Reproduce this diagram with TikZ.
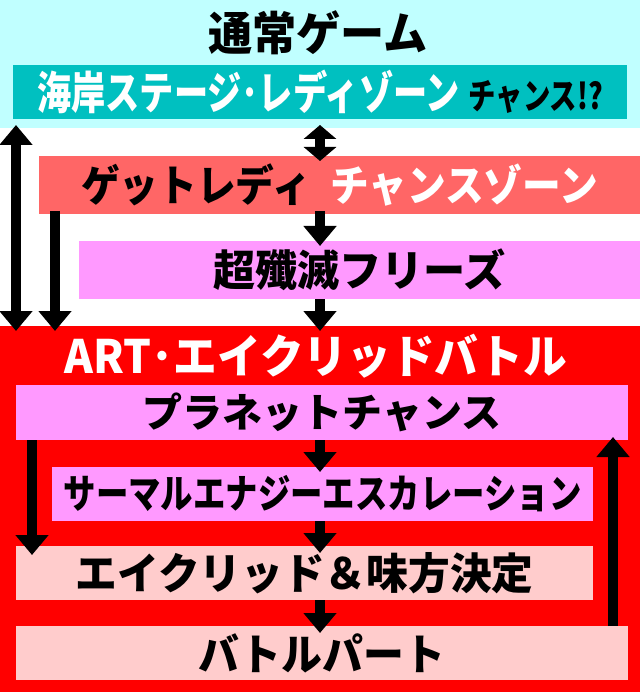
\documentclass[tikz,border=0pt]{standalone}
\usepackage{fontspec}
\setmainfont{Noto Sans CJK JP}
\usepackage{graphicx}
\usetikzlibrary{arrows.meta}
\definecolor{ice}{HTML}{C0FFFF}
\definecolor{coastteal}{HTML}{00C0C0}
\definecolor{salmon}{HTML}{FF6666}
\definecolor{orchid}{HTML}{FF99FF}
\definecolor{blush}{HTML}{FFCCCC}
\definecolor{artred}{HTML}{FF0000}
\newcommand\squeeze[2]{\scalebox{#1}[1]{#2}}
\tikzset{
  Fat/.tip={Triangle[width=32pt,length=20pt]},
  Stub/.tip={Triangle[width=32pt,length=14pt]},
  zone/.style={fill=#1,inner sep=0pt,outer sep=0pt,anchor=north west},
  stage/.style={fill=#1,inner sep=0pt,outer sep=0pt},
  txt/.style={font=\bfseries\fontsize{#1}{#1}\selectfont},
  flow/.style={line width=10pt,-Fat},
}
\begin{document}
\begin{tikzpicture}[x=1pt,y=-1pt]
\useasboundingbox[fill=white] (0,0) rectangle (640,692);
% zones
\node[zone=ice,minimum width=640pt,minimum height=128pt] (normal) at (0,0) {};
\node[zone=artred,minimum width=640pt,minimum height=366pt] (art) at (0,326) {};
\node[txt=46] (normaltitle) at (318,33) {\squeeze{0.96}{通常ゲーム}};
\node[txt=46,white] (arttitle) at (316,356) {\squeeze{0.95}{ART･エイクリッドバトル}};
% stages
\node[stage=coastteal,minimum width=614pt,minimum height=54pt,txt=45] (coast) at (320,92)
  {\squeeze{0.76}{\textcolor{white}{海岸ステージ･レディゾーン}\hspace{0.25em}{\fontsize{36}{36}\selectfont チャンス!?}}};
\node[stage=salmon,minimum width=601pt,minimum height=58pt,txt=43] (getlady) at (339.5,185)
  {\squeeze{0.9}{ゲットレディ\hspace{0.5em}\textcolor{white}{チャンスゾーン}}};
\node[stage=orchid,minimum width=561pt,minimum height=58pt,txt=43] (freeze) at (359.5,270) {\squeeze{0.98}{超殲滅フリーズ}};
\node[stage=orchid,minimum width=612pt,minimum height=55pt,txt=40] (planet) at (322,412.5) {プラネットチャンス};
\node[stage=orchid,minimum width=541pt,minimum height=54pt,txt=40] (thermal) at (322.5,494)
  {\squeeze{0.81}{サーマルエナジーエスカレーション}};
\node[stage=blush,minimum width=577pt,minimum height=54pt,txt=43] (decide) at (304.5,573) {\squeeze{0.97}{エイクリッド＆味方決定}};
\node[stage=blush,minimum width=612pt,minimum height=54pt,txt=43] (battle) at (322,653) {\squeeze{0.95}{バトルパート}};
% lanes
\coordinate (mid) at (320,0);
\coordinate (laneA) at (16,0);
\coordinate (laneB) at (55,0);
\coordinate (laneC) at (32,0);
\coordinate (laneD) at (613,0);
% arrows
\draw[flow,Fat-Fat,shorten <=-3pt,shorten >=-5pt] (normal.south -| laneA) -- (art.north -| laneA);
\draw[flow,Stub-Stub,shorten <=6pt,shorten >=-5pt] (coast.south -| mid) -- (getlady.north -| mid);
\draw[flow,shorten <=-3pt,shorten >=-5pt] (getlady.south -| laneB) -- (art.north -| laneB);
\draw[flow,shorten <=-3pt,shorten >=-5pt] (getlady.south -| mid) -- (freeze.north -| mid);
\draw[flow,shorten >=-5pt] (freeze.south -| mid) -- (art.north -| mid);
\draw[flow,shorten >=-5pt] (planet.south -| mid) -- (thermal.north -| mid);
\draw[flow,shorten >=-7pt] (thermal.south -| mid) -- (decide.north -| mid);
\draw[flow,shorten >=-7pt] (decide.south -| mid) -- (battle.north -| mid);
\draw[flow,shorten >=-9pt] (planet.south -| laneC) -- (decide.north -| laneC);
\draw[flow,shorten >=-3pt] (battle.north -| laneD) -- (planet.south -| laneD);
\end{tikzpicture}
\end{document}
